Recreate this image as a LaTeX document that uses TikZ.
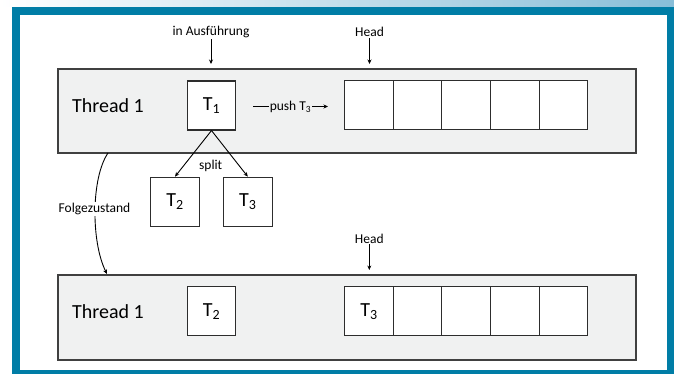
\documentclass[tikz,border=0pt]{standalone}
\usepackage{fontspec}
\setmainfont{Carlito}
\usetikzlibrary{arrows.meta}
\definecolor{frameblue}{RGB}{0,125,166}
\definecolor{lightblue}{RGB}{136,190,216}
\definecolor{boxgray}{RGB}{240,241,241}
\definecolor{edgegray}{RGB}{64,64,64}
\definecolor{celledge}{RGB}{45,45,45}
\begin{document}
\begin{tikzpicture}[x=1pt,y=-1pt,
  threadbox/.style={draw=edgegray, fill=boxgray, line width=1.3pt, minimum width=578pt, inner sep=0pt},
  taskbox/.style={draw=celledge, fill=white, line width=1.1pt, minimum width=48.6pt, minimum height=49pt, inner sep=0pt, font=\fontsize{20}{24}\selectfont},
  threadlabel/.style={anchor=west, inner sep=0pt, font=\fontsize{20}{24}\selectfont},
  smalllabel/.style={inner sep=1pt, font=\fontsize{13.5}{16}\selectfont},
  arr/.style={line width=0.9pt, -{Stealth[length=4.5pt,width=4pt]}}
]
\useasboundingbox (0,0) rectangle (674,374);
% frame
\shade[left color=white, right color=lightblue] (0,0) rectangle (674,7);
\fill[frameblue] (12,7) rectangle (674,374);
\fill[white] (20,15) rectangle (667,370);

% thread boxes
\node[threadbox, minimum height=84pt] (th1) at (347,111) {};
\node[threadbox, minimum height=85pt] (th2) at (347,317.5) {};
\node[threadlabel] (lab1) at (72,105.5) {Thread 1};
\node[threadlabel] (lab2) at (72,311.5) {Thread 1};

% top row
\node[taskbox] (t1) at (211.5,105.5) {T\textsubscript{1}};
\node[taskbox] (q1) at (369,105.3) {};
\node[taskbox] (q2) at (417.6,105.3) {};
\node[taskbox] (q3) at (466.2,105.3) {};
\node[taskbox] (q4) at (514.8,105.3) {};
\node[taskbox] (q5) at (563.4,105.3) {};

% split boxes
\node[taskbox] (s2) at (175,201.7) {T\textsubscript{2}};
\node[taskbox] (s3) at (247.8,201.7) {T\textsubscript{3}};
\draw[arr] (t1.south) -- (s2.north);
\draw[arr] (t1.south) -- (s3.north);
\node[smalllabel] (splitlab) at (210.7,166) {split};

% push
\coordinate (p1) at (253,106.5);
\coordinate (p2) at (328,106.5);
\draw[arr] (p1) -- node[smalllabel, fill=boxgray, inner sep=1pt] {push T\textsubscript{3}} (p2);

% bottom row
\node[taskbox] (b2) at (211.5,311.2) {T\textsubscript{2}};
\node[taskbox] (r1) at (369,311.2) {T\textsubscript{3}};
\node[taskbox] (r2) at (417.6,311.2) {};
\node[taskbox] (r3) at (466.2,311.2) {};
\node[taskbox] (r4) at (514.8,311.2) {};
\node[taskbox] (r5) at (563.4,311.2) {};

% top labels
\node[smalllabel] (ausf) at (211,32) {in Ausführung};
\coordinate (ausfend) at (211,64);
\draw[arr] (ausf.south) -- (ausfend);
\node[smalllabel] (head1) at (369.5,32) {Head};
\coordinate (head1end) at (369.5,64);
\draw[arr] (head1.south) -- (head1end);
\node[smalllabel] (head2) at (369.3,238.5) {Head};
\coordinate (head2end) at (369.3,270);
\draw[arr] (head2.south) -- (head2end);

% Folgezustand
\coordinate (f1) at (108,153);
\coordinate (f2) at (107,274);
\draw[arr] (f1) .. controls (91,178) and (91,242) .. (f2);
\node[smalllabel, fill=white] (folge) at (94.5,209) {Folgezustand};
\end{tikzpicture}
\end{document}
